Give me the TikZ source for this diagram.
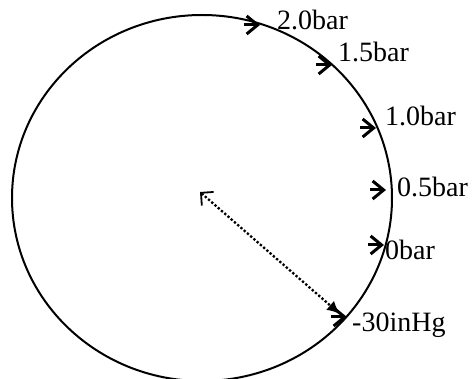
\documentclass[tikz,border=0pt]{standalone}
\usepackage{fontspec}
\setmainfont{Liberation Serif}
\usetikzlibrary{arrows.meta}
\begin{document}
\begin{tikzpicture}[x=1pt,y=-1pt,
  tickarrow/.style={line width=3pt,-{Straight Barb[length=11pt,width=18pt,line width=3pt]}},
  lab/.style={anchor=base west,inner sep=0pt,font=\fontsize{28}{30}\selectfont},
  radius arrow/.style={dotted,line width=2.3pt,{Straight Barb[length=9pt,width=18pt,line width=1.8pt]}-{Latex[length=13pt,width=12pt]}}
  ]
\useasboundingbox (0,0) rectangle (472,379);
\begin{scope}
\clip (0,0) rectangle (472,379);
\draw[line width=2pt] (202,198) ellipse [x radius=190pt, y radius=183pt];
\end{scope}
% tick points
\coordinate (t20) at (260,25);
\coordinate (t15) at (332,65);
\coordinate (t10) at (376,128);
\coordinate (t05) at (386,190);
\coordinate (t00) at (384,245);
\coordinate (tm30) at (347,317);
% labels
\node[lab] (l20) at (277,30) {2.0bar};
\node[lab] (l15) at (338,62) {1.5bar};
\node[lab] (l10) at (385,126) {1.0bar};
\node[lab] (l05) at (397,197) {0.5bar};
\node[lab] (l00) at (385,260) {0bar};
\node[lab] (lm30) at (352,332) {-30inHg};
% ticks
\foreach \t in {t20,t15,t10,t05,t00,tm30}
  \draw[tickarrow] ([xshift=-16pt]\t) -- (\t);
% radius arrow
\coordinate (a0) at (200,192);
\coordinate (a1) at (340,314);
\draw[radius arrow] (a0) -- (a1);
\end{tikzpicture}
\end{document}
